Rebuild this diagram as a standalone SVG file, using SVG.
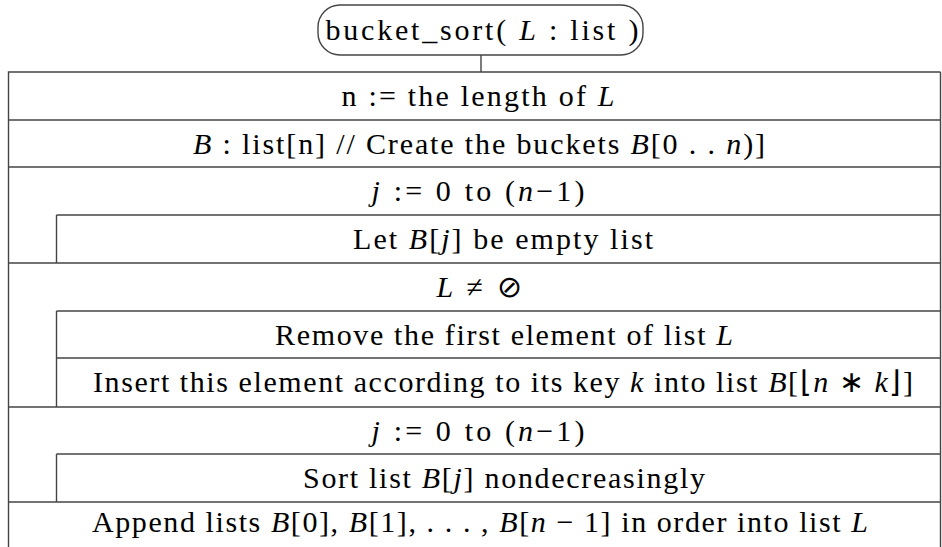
<svg xmlns="http://www.w3.org/2000/svg" width="942" height="547" viewBox="0 0 942 547" font-family="Liberation Serif" font-size="30">
<style>
  .ln { stroke: #444; stroke-width: 1.4; fill: none; }
  .t { fill: #000; text-anchor: middle; }
  .i { font-style: italic; }
</style>
<rect x="0" y="0" width="942" height="547" fill="#fff"/>
<g id="title">
  <rect class="ln" x="318" y="5" width="325" height="50" rx="22" ry="22"/>
  <text class="t" x="482" y="40" textLength="313" lengthAdjust="spacing">bucket_sort( <tspan class="i">L</tspan> : list )</text>
</g>
<g id="connectors">
  <line class="ln" x1="481" y1="55" x2="481" y2="72"/>
</g>
<g id="frame">
  <polyline class="ln" points="940.5,72 8.5,72 8.5,547"/>
  <line class="ln" x1="940.5" y1="72" x2="940.5" y2="547"/>
</g>
<g id="n1">
  <line class="ln" x1="8" y1="120" x2="941" y2="120"/>
  <text class="t" x="478" y="106" textLength="273" lengthAdjust="spacing">n := the length of <tspan class="i">L</tspan></text>
</g>
<g id="n2">
  <line class="ln" x1="8" y1="167" x2="941" y2="167"/>
  <text class="t" x="479" y="154" textLength="572" lengthAdjust="spacing"><tspan class="i">B</tspan> : list[n] // Create the buckets <tspan class="i">B</tspan>[0 . . <tspan class="i">n</tspan>)]</text>
</g>
<g id="n3">
  <text class="t" x="478" y="201" textLength="213" lengthAdjust="spacing"><tspan class="i">j</tspan> := 0 to (<tspan class="i">n</tspan>−1)</text>
  <line class="ln" x1="56.5" y1="215" x2="941" y2="215"/>
  <line class="ln" x1="56.5" y1="215" x2="56.5" y2="263"/>
  <line class="ln" x1="8" y1="263" x2="941" y2="263"/>
</g>
<g id="n4">
  <text class="t" x="503" y="249" textLength="300" lengthAdjust="spacing">Let <tspan class="i">B</tspan>[<tspan class="i">j</tspan>] be empty list</text>
</g>
<g id="n5">
  <text class="t" x="479" y="297" textLength="85" lengthAdjust="spacing"><tspan class="i">L</tspan> ≠ ⊘</text>
  <line class="ln" x1="56.5" y1="311" x2="941" y2="311"/>
  <line class="ln" x1="56.5" y1="311" x2="56.5" y2="407"/>
  <line class="ln" x1="8" y1="407" x2="941" y2="407"/>
</g>
<g id="n6">
  <line class="ln" x1="56.5" y1="358" x2="941" y2="358"/>
  <text class="t" x="504" y="345" textLength="458" lengthAdjust="spacing">Remove the first element of list <tspan class="i">L</tspan></text>
</g>
<g id="n7">
  <text class="t" x="503" y="392" textLength="820" lengthAdjust="spacing">Insert this element according to its key <tspan class="i">k</tspan> into list <tspan class="i">B</tspan>[⌊<tspan class="i">n</tspan> ∗ <tspan class="i">k</tspan>⌋]</text>
</g>
<g id="n8">
  <text class="t" x="478" y="441" textLength="213" lengthAdjust="spacing"><tspan class="i">j</tspan> := 0 to (<tspan class="i">n</tspan>−1)</text>
  <line class="ln" x1="56.5" y1="454" x2="941" y2="454"/>
  <line class="ln" x1="56.5" y1="454" x2="56.5" y2="502"/>
  <line class="ln" x1="8" y1="502" x2="941" y2="502"/>
</g>
<g id="n9">
  <text class="t" x="504" y="488" textLength="402" lengthAdjust="spacing">Sort list <tspan class="i">B</tspan>[<tspan class="i">j</tspan>] nondecreasingly</text>
</g>
<g id="n10">
  <text class="t" x="480" y="532" textLength="776" lengthAdjust="spacing">Append lists <tspan class="i">B</tspan>[0], <tspan class="i">B</tspan>[1], . . . , <tspan class="i">B</tspan>[<tspan class="i">n</tspan> − 1] in order into list <tspan class="i">L</tspan></text>
</g>
</svg>
